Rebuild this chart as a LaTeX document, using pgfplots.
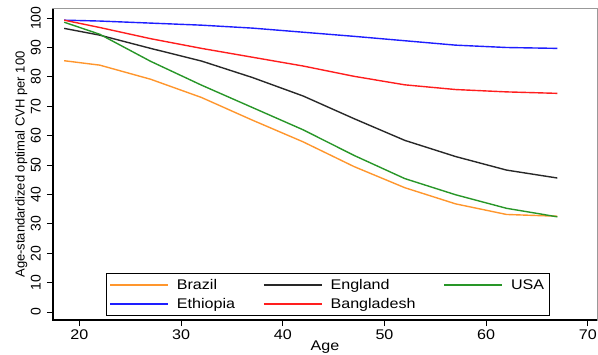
\documentclass[border=0pt]{standalone}
\usepackage{fontspec}
\setmainfont{Liberation Sans}
\newfontfamily\widefont{Liberation Sans}[FakeStretch=1.15]
\usepackage{pgfplots}
\pgfplotsset{compat=1.18}
\usetikzlibrary{calc}
\definecolor{cBrazil}{RGB}{255,150,45}
\definecolor{cEngland}{RGB}{40,40,40}
\definecolor{cUSA}{RGB}{40,150,40}
\definecolor{cEthiopia}{RGB}{30,30,255}
\definecolor{cBangladesh}{RGB}{255,30,30}
\begin{document}
\begin{tikzpicture}
\begin{axis}[name=ax, width=544pt, height=311pt, scale only axis,
 xmin=17.4, xmax=70.9, ymin=-2.7, ymax=103.1,
 xtick={20,30,...,70}, ytick={0,10,...,100},
 xtick pos=bottom, ytick pos=left, tick align=outside,
 major tick length=6pt, tick style={black, line width=0.9pt},
 axis line style={draw=gray!80, line width=1pt},
 /pgf/number format/assume math mode=true,
 xticklabel style={font=\widefont\fontsize{14}{16}\selectfont},
 yticklabel style={font=\fontsize{14}{16}\selectfont, rotate=90, anchor=south, inner sep=0pt},
 yticklabel shift=6pt,
 xlabel={Age}, xlabel style={font=\widefont\fontsize{14}{16}\selectfont, yshift=5pt},
 ylabel={Age-standardized optimal CVH per 100}, ylabel style={font=\fontsize{13}{15}\selectfont},
 legend columns=3, legend cell align=left,
 legend style={at={(0.0974,0.0129)}, anchor=south west, draw=black, line width=0.8pt,
   font=\widefont\fontsize{14}{16}\selectfont, inner xsep=3pt, inner ysep=4pt,
   row sep=3pt,
   /tikz/every odd column/.append style={column sep=6pt},
   /tikz/every even column/.append style={column sep=26pt}},
 legend image code/.code={\draw[#1, line width=1.5pt] (0pt,0pt) -- (58pt,0pt);},
 clip=false,
 every axis plot/.append style={line width=1.4pt, line join=round},
]
\addplot[cBrazil] coordinates {(18.5,85.5) (22,84.0) (27,79.2) (32,73.0) (37,65.3) (42,57.9) (47,49.5) (52,42.3) (57,36.8) (62,33.2) (67,32.6)};
\addlegendentry{Brazil}
\addplot[cEngland] coordinates {(18.5,96.5) (22,94.2) (27,89.7) (32,85.4) (37,79.8) (42,73.5) (47,65.8) (52,58.4) (57,52.9) (62,48.3) (67,45.6)};
\addlegendentry{England}
\addplot[cUSA] coordinates {(18.5,98.6) (22,94.5) (27,85.3) (32,77.2) (37,69.6) (42,62.0) (47,53.3) (52,45.4) (57,39.9) (62,35.3) (67,32.4)};
\addlegendentry{USA}
\addplot[cEthiopia] coordinates {(18.5,99.3) (22,99.0) (27,98.3) (32,97.6) (37,96.6) (42,95.2) (47,93.8) (52,92.3) (57,90.8) (62,90.0) (67,89.7)};
\addlegendentry{Ethiopia}
\addplot[cBangladesh] coordinates {(18.5,99.3) (22,96.8) (27,93.0) (32,89.7) (37,86.7) (42,83.7) (47,80.2) (52,77.3) (57,75.7) (62,74.9) (67,74.4)};
\addlegendentry{Bangladesh}
\draw[black, line width=1.4pt] (rel axis cs:0,1) -- (rel axis cs:0,0) -- (rel axis cs:1,0);
\end{axis}
\pgfresetboundingbox
\path[use as bounding box] ($(ax.south west)+(-53pt,-35pt)$) rectangle ($(ax.north east)+(1pt,9pt)$);
\end{tikzpicture}
\end{document}
